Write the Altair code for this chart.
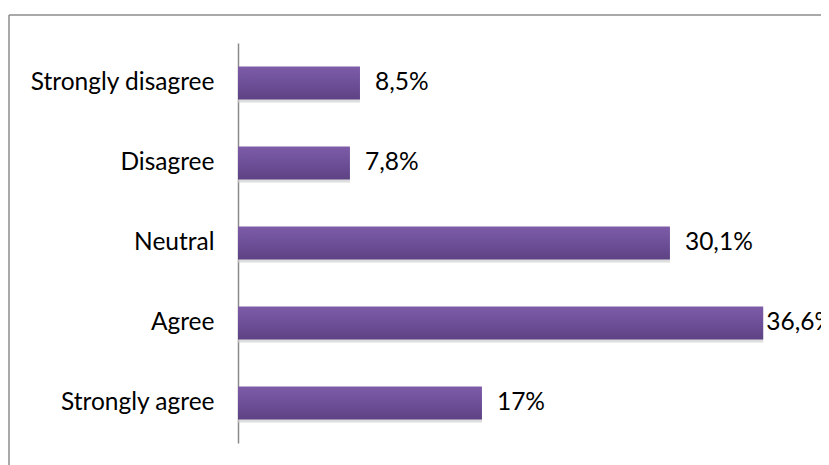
import altair as alt
import pandas as pd

categories = ["Strongly disagree", "Disagree", "Neutral", "Agree", "Strongly agree"]
values = [8.5, 7.8, 30.1, 36.6, 17]
labels = ["8,5%", "7,8%", "30,1%", "36,6%", "17%"]

df = pd.DataFrame({"cat": categories, "value": values, "label": labels})

FONT = "Lato"
FS = 24.5

y_enc = alt.Y("cat:N", sort=categories, title=None,
              scale=alt.Scale(paddingInner=0.5875, paddingOuter=0.29375),
              axis=alt.Axis(ticks=False, labelFontSize=FS, labelFont=FONT,
                            labelColor="#000000", labelPadding=24, labelLimit=400,
                            domainColor="#8a8a8a", domainWidth=1.5))
x_enc = alt.X("value:Q", scale=alt.Scale(domain=[0, 40], nice=False), axis=None)

grad = alt.Gradient(
    gradient="linear", x1=0, y1=0, x2=0, y2=1,
    stops=[alt.GradientStop(color="#7e5ca8", offset=0),
           alt.GradientStop(color="#6d4f98", offset=0.5),
           alt.GradientStop(color="#5d4283", offset=1)])

base = alt.Chart(df)
one = base.transform_filter("datum.cat == 'Agree'")

frame_left = one.mark_rule(color="#8c8c8c", strokeWidth=1.5, clip=False).encode(
    x=alt.value(-229), y=alt.value(-28), y2=alt.value(480))
frame_top = one.mark_rule(color="#8c8c8c", strokeWidth=1.5, clip=False).encode(
    x=alt.value(-229), x2=alt.value(700), y=alt.value(-28))

shadow = base.mark_bar(color="#cfcfcf", opacity=0.7, yOffset=3, y2Offset=3,
                       x2Offset=2).encode(x=x_enc, y=y_enc)
bars = base.mark_bar(color=grad).encode(x=x_enc, y=y_enc)

text_a = base.mark_text(align="left", baseline="middle", dx=15, fontSize=FS,
                        font=FONT, color="#000000").encode(
    x=x_enc, y=y_enc, text="label:N").transform_filter("datum.value < 35")
text_b = base.mark_text(align="left", baseline="middle", dx=3, fontSize=FS,
                        font=FONT, color="#000000").encode(
    x=x_enc, y=y_enc, text="label:N").transform_filter("datum.value >= 35")

chart = alt.layer(frame_left, frame_top, shadow, bars, text_a, text_b).properties(
    width=574, height=400,
    background="#ffffff",
    autosize=alt.AutoSizeParams(type="none"),
    padding={"left": 230, "top": 35, "right": 9, "bottom": 22},
).configure_view(stroke="transparent", strokeWidth=0)

chart.save("out.html", embed_options={"renderer": "svg", "actions": False})
